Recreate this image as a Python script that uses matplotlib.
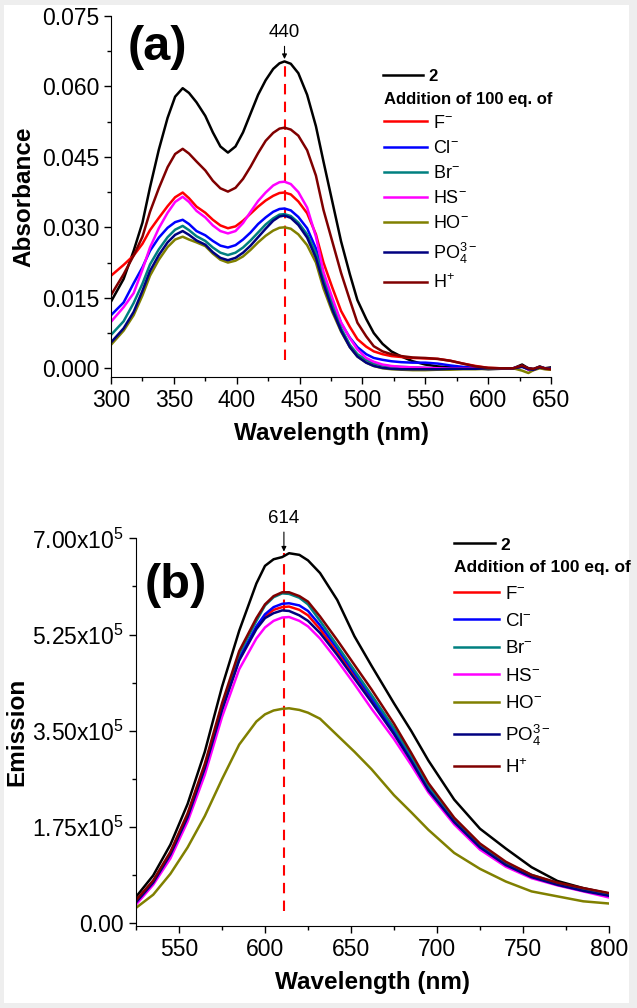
import numpy as np
import matplotlib
matplotlib.use('Agg')
import matplotlib.pyplot as plt
from matplotlib.patches import Rectangle
from matplotlib.ticker import MultipleLocator, FuncFormatter

plt.rcParams['font.family'] = ['Liberation Sans', 'DejaVu Sans']
plt.rcParams['mathtext.fontset'] = 'custom'
plt.rcParams['mathtext.rm'] = 'Liberation Sans'
plt.rcParams['mathtext.it'] = 'Liberation Sans:italic'
plt.rcParams['mathtext.bf'] = 'Liberation Sans:bold'
plt.rcParams['mathtext.default'] = 'regular'

## Data

# (a) absorbance spectra
wl_abs = [300, 310, 318, 325, 331, 338, 345, 351, 357, 362, 368, 375, 381, 387, 393,
          399, 405, 411, 417, 423, 429, 434, 438, 443, 449, 456, 463, 469, 476, 483,
          490, 496, 503, 509, 516, 523, 531, 540, 550, 560, 570, 580, 590, 600, 610,
          620, 627, 632, 636, 641, 645, 650]

abs_2 = [0.0142, 0.0190, 0.0250, 0.0310, 0.0385, 0.0465, 0.0533, 0.0578, 0.0596, 0.0586,
         0.0566, 0.0537, 0.0502, 0.0472, 0.0459, 0.0472, 0.0502, 0.0542, 0.0582, 0.0613,
         0.0637, 0.0649, 0.0653, 0.0648, 0.0628, 0.0582, 0.0515, 0.0440, 0.0355, 0.0270,
         0.0200, 0.0145, 0.0105, 0.0075, 0.0052, 0.0036, 0.0025, 0.0015, 0.0008, 0.0004,
         0.0002, 0.0000, 0.0000, -0.0002, -0.0001, 0.0000, 0.0008, 0.0000, -0.0002, 0.0004,
         0.0000, 0.0002]
abs_F = [0.0197, 0.0220, 0.0240, 0.0265, 0.0294, 0.0320, 0.0345, 0.0364, 0.0374, 0.0362,
         0.0344, 0.0331, 0.0316, 0.0304, 0.0298, 0.0302, 0.0314, 0.0329, 0.0344, 0.0357,
         0.0367, 0.0373, 0.0374, 0.0370, 0.0355, 0.0330, 0.0285, 0.0225, 0.0172, 0.0122,
         0.0088, 0.0062, 0.0046, 0.0036, 0.0030, 0.0026, 0.0024, 0.0022, 0.0021, 0.0020,
         0.0016, 0.0010, 0.0005, 0.0001, 0.0000, 0.0000, 0.0004, -0.0001, -0.0002, 0.0002,
         -0.0001, -0.0003]
abs_Cl = [0.0113, 0.0140, 0.0181, 0.0215, 0.0250, 0.0278, 0.0299, 0.0311, 0.0316, 0.0307,
          0.0292, 0.0283, 0.0271, 0.0261, 0.0257, 0.0262, 0.0274, 0.0289, 0.0307, 0.0321,
          0.0333, 0.0339, 0.0340, 0.0336, 0.0322, 0.0298, 0.0255, 0.0200, 0.0145, 0.0096,
          0.0065, 0.0045, 0.0030, 0.0022, 0.0018, 0.0015, 0.0013, 0.0012, 0.0012, 0.0010,
          0.0006, 0.0003, 0.0001, 0.0000, 0.0000, 0.0000, 0.0005, 0.0000, -0.0002, 0.0003,
          0.0000, -0.0001]
abs_Br = [0.0071, 0.0100, 0.0139, 0.0180, 0.0221, 0.0253, 0.0279, 0.0295, 0.0303, 0.0294,
          0.0281, 0.0271, 0.0257, 0.0246, 0.0241, 0.0246, 0.0257, 0.0272, 0.0289, 0.0306,
          0.0319, 0.0327, 0.0328, 0.0324, 0.0310, 0.0285, 0.0245, 0.0190, 0.0135, 0.0085,
          0.0050, 0.0030, 0.0018, 0.0010, 0.0006, 0.0004, 0.0003, 0.0002, 0.0001, 0.0000,
          0.0000, 0.0000, 0.0000, 0.0000, 0.0000, 0.0000, 0.0004, -0.0002, -0.0003, 0.0002,
          0.0000, -0.0002]
abs_HS = [0.0099, 0.0130, 0.0160, 0.0210, 0.0257, 0.0298, 0.0331, 0.0354, 0.0365, 0.0354,
          0.0335, 0.0321, 0.0304, 0.0292, 0.0287, 0.0292, 0.0309, 0.0333, 0.0356, 0.0374,
          0.0389, 0.0396, 0.0397, 0.0392, 0.0375, 0.0342, 0.0280, 0.0205, 0.0150, 0.0098,
          0.0064, 0.0040, 0.0022, 0.0014, 0.0008, 0.0005, 0.0003, 0.0002, 0.0001, 0.0000,
          0.0000, 0.0000, 0.0000, 0.0000, 0.0000, 0.0000, 0.0005, -0.0003, -0.0004, 0.0002,
          0.0000, -0.0002]
abs_HO = [0.0050, 0.0080, 0.0113, 0.0155, 0.0197, 0.0231, 0.0258, 0.0274, 0.0280, 0.0274,
          0.0268, 0.0260, 0.0244, 0.0231, 0.0225, 0.0229, 0.0238, 0.0252, 0.0268, 0.0282,
          0.0293, 0.0299, 0.0300, 0.0297, 0.0285, 0.0262, 0.0225, 0.0170, 0.0120, 0.0078,
          0.0045, 0.0025, 0.0012, 0.0005, 0.0000, -0.0002, -0.0003, -0.0004, -0.0004, -0.0003,
          -0.0003, -0.0002, -0.0002, -0.0001, 0.0000, 0.0000, -0.0005, -0.0010, -0.0004, 0.0000,
          -0.0002, -0.0003]
abs_PO4 = [0.0055, 0.0085, 0.0120, 0.0165, 0.0207, 0.0241, 0.0268, 0.0284, 0.0292, 0.0284,
           0.0272, 0.0263, 0.0247, 0.0235, 0.0230, 0.0235, 0.0246, 0.0261, 0.0279, 0.0297,
           0.0314, 0.0323, 0.0325, 0.0320, 0.0305, 0.0278, 0.0235, 0.0180, 0.0125, 0.0080,
           0.0045, 0.0025, 0.0012, 0.0005, 0.0001, -0.0001, -0.0002, -0.0002, -0.0002, -0.0002,
           -0.0001, -0.0001, -0.0001, 0.0000, 0.0000, 0.0000, 0.0003, -0.0002, -0.0003, 0.0002,
           0.0000, -0.0001]
abs_H = [0.0156, 0.0200, 0.0240, 0.0280, 0.0333, 0.0383, 0.0428, 0.0456, 0.0467, 0.0457,
         0.0440, 0.0421, 0.0399, 0.0383, 0.0376, 0.0384, 0.0403, 0.0429, 0.0458, 0.0484,
         0.0501, 0.0510, 0.0512, 0.0508, 0.0495, 0.0464, 0.0410, 0.0337, 0.0270, 0.0203,
         0.0145, 0.0097, 0.0068, 0.0047, 0.0036, 0.0030, 0.0026, 0.0023, 0.0022, 0.0020,
         0.0016, 0.0010, 0.0004, 0.0001, 0.0000, 0.0000, 0.0006, 0.0000, -0.0001, 0.0003,
         0.0000, -0.0002]

# (b) emission spectra (units of 1e5)
wl_em = [525, 535, 545, 555, 565, 575, 585, 595, 600, 605, 610, 614, 620, 625, 632,
         642, 652, 662, 675, 685, 695, 710, 725, 740, 755, 770, 785, 800]

em_2 = [0.48, 0.87, 1.43, 2.17, 3.12, 4.30, 5.32, 6.18, 6.50, 6.62, 6.66, 6.73, 6.70, 6.60,
        6.37, 5.88, 5.22, 4.68, 4.00, 3.50, 2.96, 2.25, 1.72, 1.36, 1.02, 0.77, 0.64, 0.54]
em_F = [0.40, 0.75, 1.26, 1.94, 2.83, 3.90, 4.80, 5.38, 5.58, 5.70, 5.75, 5.76, 5.70, 5.60,
        5.35, 4.93, 4.50, 4.05, 3.47, 2.98, 2.45, 1.86, 1.40, 1.08, 0.86, 0.72, 0.62, 0.53]
em_Cl = [0.38, 0.74, 1.25, 1.93, 2.82, 3.90, 4.82, 5.40, 5.62, 5.75, 5.81, 5.82, 5.78, 5.68,
         5.42, 5.00, 4.55, 4.10, 3.50, 3.00, 2.47, 1.88, 1.40, 1.08, 0.85, 0.71, 0.60, 0.50]
em_Br = [0.40, 0.76, 1.27, 1.96, 2.86, 3.95, 4.90, 5.50, 5.78, 5.93, 6.00, 5.99, 5.92, 5.80,
         5.50, 5.05, 4.60, 4.15, 3.55, 3.05, 2.50, 1.90, 1.43, 1.10, 0.88, 0.73, 0.62, 0.53]
em_HS = [0.34, 0.70, 1.18, 1.85, 2.70, 3.75, 4.62, 5.18, 5.38, 5.50, 5.56, 5.57, 5.50, 5.40,
         5.18, 4.78, 4.35, 3.90, 3.35, 2.88, 2.38, 1.80, 1.34, 1.03, 0.82, 0.69, 0.58, 0.47]
em_HO = [0.28, 0.52, 0.90, 1.38, 1.95, 2.62, 3.25, 3.67, 3.80, 3.87, 3.90, 3.91, 3.88, 3.83,
         3.72, 3.42, 3.12, 2.80, 2.33, 2.02, 1.70, 1.28, 0.99, 0.76, 0.58, 0.49, 0.40, 0.36]
em_PO4 = [0.38, 0.74, 1.25, 1.93, 2.82, 3.88, 4.78, 5.35, 5.55, 5.64, 5.69, 5.68, 5.60, 5.50,
          5.28, 4.88, 4.45, 4.02, 3.44, 2.95, 2.42, 1.84, 1.38, 1.06, 0.84, 0.70, 0.59, 0.50]
em_H = [0.42, 0.78, 1.30, 2.00, 2.90, 4.00, 4.95, 5.55, 5.80, 5.95, 6.02, 6.02, 5.95, 5.85,
        5.58, 5.15, 4.70, 4.25, 3.63, 3.10, 2.55, 1.92, 1.45, 1.12, 0.88, 0.74, 0.64, 0.55]

ion_labels = [r'F$^{-}$', r'Cl$^{-}$', r'Br$^{-}$', r'HS$^{-}$', r'HO$^{-}$',
              r'PO$_{4}^{3-}$', r'H$^{+}$']
ion_colors = ['#ff0000', '#0000ff', '#008080', '#ff00ff', '#808000', '#000080', '#800000']
abs_ions = [abs_F, abs_Cl, abs_Br, abs_HS, abs_HO, abs_PO4, abs_H]
em_ions = [em_F, em_Cl, em_Br, em_HS, em_HO, em_PO4, em_H]

peak_abs = 438     # position of dashed marker line, (a)
peak_abs_lab = '440'
peak_em = 611      # position of dashed marker line, (b)
peak_em_lab = '614'

lw = 1.8
tick_fs = 16.5
lab_fs = 17.5


def style_axes(ax):
    ax.spines['top'].set_visible(False)
    ax.spines['right'].set_visible(False)
    ax.tick_params(which='major', direction='out', length=5, width=1, labelsize=tick_fs)
    ax.tick_params(which='minor', direction='out', length=3, width=1)


def add_legend(ax, lines, x0, y1, y2, fs, spacing):
    leg1 = ax.legend(handles=[lines[0]], labels=['2'], loc='upper left',
                     bbox_to_anchor=(x0, y1), frameon=False, borderpad=0,
                     handlelength=2.4, handletextpad=0.3,
                     prop={'weight': 'bold', 'size': fs})
    ax.add_artist(leg1)
    ax.legend(handles=lines[1:], labels=ion_labels, loc='upper left',
              bbox_to_anchor=(x0, y2), frameon=False, borderpad=0,
              handlelength=2.4, handletextpad=0.3, labelspacing=spacing,
              fontsize=fs + 1, title='Addition of 100 eq. of',
              title_fontproperties={'weight': 'bold', 'size': fs},
              alignment='left')


fig = plt.figure(figsize=(6.37, 10.08), dpi=100)
fig.patch.set_facecolor('#eeeeee')
fig.patches.append(Rectangle((4 / 637, 5 / 1008), 625 / 637, 998 / 1008,
                             transform=fig.transFigure, facecolor='white',
                             edgecolor='none', zorder=-10))

##Panel (a)
ax1 = fig.add_axes([0.1743, 0.626, 0.6907, 0.3583])
ax1.set_facecolor('none')
lines = ax1.plot(wl_abs, abs_2, color='k', lw=lw)
for yy, cc in zip(abs_ions, ion_colors):
    lines += ax1.plot(wl_abs, yy, color=cc, lw=lw)
ax1.plot([peak_abs, peak_abs], [0.0017, max(abs_2)], color='#ff0000', lw=1.5,
         ls=(0, (5, 3.5)), zorder=1)
ax1.annotate(peak_abs_lab, xy=(peak_abs, 0.0658), xytext=(peak_abs, 0.0715),
             ha='center', va='center', fontsize=13.5,
             arrowprops=dict(arrowstyle='-|>', color='k', lw=0.8, mutation_scale=7,
                             shrinkA=2, shrinkB=0))
ax1.text(337, 0.0683, '(a)', fontsize=35, fontweight='bold', ha='center', va='center')
ax1.set_xlim(300, 650)
ax1.set_ylim(-0.00185, 0.075)
ax1.xaxis.set_major_locator(MultipleLocator(50))
ax1.xaxis.set_minor_locator(MultipleLocator(25))
ax1.yaxis.set_major_locator(MultipleLocator(0.015))
ax1.yaxis.set_minor_locator(MultipleLocator(0.0075))
ax1.yaxis.set_major_formatter(FuncFormatter(lambda v, p: '%.3f' % v))
style_axes(ax1)
ax1.set_xlabel('Wavelength (nm)', fontsize=lab_fs, fontweight='bold', labelpad=7)
ax1.set_ylabel('Absorbance', fontsize=lab_fs, fontweight='bold', labelpad=5)
add_legend(ax1, lines, 0.6, 0.875, 0.815, 12, 0.45)

##Panel (b)
ax2 = fig.add_axes([0.2135, 0.0813, 0.7425, 0.3846])
ax2.set_facecolor('none')
lines = ax2.plot(wl_em, np.array(em_2) * 1e5, color='k', lw=lw)
for yy, cc in zip(em_ions, ion_colors):
    lines += ax2.plot(wl_em, np.array(yy) * 1e5, color=cc, lw=lw)
ax2.plot([peak_em, peak_em], [0.22e5, max(em_2) * 1e5], color='#ff0000', lw=1.5,
         ls=(0, (5, 3.5)), zorder=1)
ax2.annotate(peak_em_lab, xy=(peak_em, 6.76e5), xytext=(peak_em, 7.37e5),
             ha='center', va='center', fontsize=13.5, annotation_clip=False,
             arrowprops=dict(arrowstyle='-|>', color='k', lw=0.8, mutation_scale=7,
                             shrinkA=2, shrinkB=0))
ax2.text(548, 6.15e5, '(b)', fontsize=35, fontweight='bold', ha='center', va='center')
ax2.set_xlim(525, 800)
ax2.set_ylim(-0.05e5, 7.0e5)
ax2.xaxis.set_major_locator(MultipleLocator(50))
ax2.xaxis.set_minor_locator(MultipleLocator(25))
ax2.yaxis.set_major_locator(MultipleLocator(1.75e5))
ax2.yaxis.set_minor_locator(MultipleLocator(0.875e5))


def em_fmt(v, p):
    if abs(v) < 1:
        return '0.00'
    return r'%.2fx10$^{5}$' % (v / 1e5)


ax2.yaxis.set_major_formatter(FuncFormatter(em_fmt))
style_axes(ax2)
ax2.set_xlabel('Wavelength (nm)', fontsize=lab_fs, fontweight='bold', labelpad=7)
ax2.set_ylabel('Emission', fontsize=lab_fs, fontweight='bold', labelpad=3)
add_legend(ax2, lines, 0.653, 1.025, 0.968, 12.5, 0.55)

plt.savefig('out.png', dpi=100, facecolor=fig.get_facecolor())
